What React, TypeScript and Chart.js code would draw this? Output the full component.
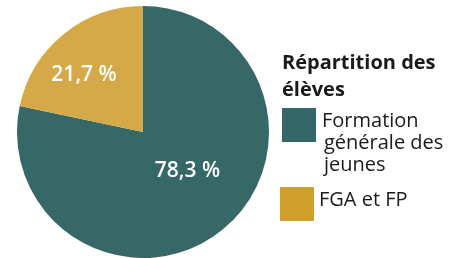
import React, { useEffect, useRef } from "react";
import { Chart, registerables } from "chart.js";

Chart.register(...registerables);

const legendTitle = ["Répartition des", "élèves"];
const categories = ["Formation générale des jeunes", "FGA et FP"];
const legendLines = [["Formation", "générale des", "jeunes"], ["FGA et FP"]];
const values = [78.3, 21.7];
const valueLabels = ["78,3 %", "21,7 %"];
const colors = ["#376868", "#d5a947"];
const legendColors = ["#346767", "#d1a02c"];

const labelPos = [
  { r: 0.47, da: -9.5 },
  { r: 0.65, da: -7 },
];

const FONT = "'Open Sans', 'Noto Sans', sans-serif";

const labelPlugin = {
  id: "sliceLabels",
  afterDatasetsDraw(chart: any) {
    const ctx = chart.ctx;
    const meta = chart.getDatasetMeta(0);
    ctx.save();
    ctx.fillStyle = "#ffffff";
    ctx.font = "600 21px " + FONT;
    ctx.textAlign = "center";
    ctx.textBaseline = "middle";
    meta.data.forEach((arc: any, i: number) => {
      const p = arc.getProps(["x", "y", "startAngle", "endAngle", "outerRadius"], true);
      const mid = (p.startAngle + p.endAngle) / 2 + (labelPos[i].da * Math.PI) / 180;
      const r = p.outerRadius * labelPos[i].r;
      ctx.fillText(valueLabels[i], p.x + Math.cos(mid) * r, p.y + Math.sin(mid) * r);
    });
    ctx.restore();
  },
};

const itemTops = [108, 187];
const textLefts = [322, 319];

export default function App() {
  const ref = useRef<HTMLCanvasElement>(null);
  useEffect(() => {
    if (!ref.current) return;
    const chart = new Chart(ref.current, {
      type: "pie",
      data: {
        labels: categories,
        datasets: [
          {
            data: values,
            backgroundColor: colors,
            borderWidth: 0,
          },
        ],
      },
      options: {
        animation: false,
        responsive: false,
        maintainAspectRatio: false,
        layout: { padding: { left: 17, right: 17, top: 6, bottom: 0 } },
        plugins: {
          legend: { display: false },
          tooltip: { enabled: false },
        },
      },
      plugins: [labelPlugin],
    });
    return () => chart.destroy();
  }, []);

  return (
    <div
      style={{
        position: "fixed",
        left: 0,
        top: 0,
        width: 470,
        height: 258,
        background: "#ffffff",
        overflow: "hidden",
        fontFamily: FONT,
        color: "#1a1a1a",
      }}
    >
      <canvas ref={ref} width={286} height={258} style={{ position: "absolute", left: 0, top: 0 }} />
      <div
        style={{
          position: "absolute",
          left: 282,
          top: 48,
          fontWeight: 700,
          fontSize: 20,
          lineHeight: "27px",
          whiteSpace: "nowrap",
        }}
      >
        {legendTitle.map((t, i) => (
          <div key={i}>{t}</div>
        ))}
      </div>
      {legendLines.map((lines, i) => (
        <React.Fragment key={i}>
          <div
            style={{
              position: "absolute",
              left: i === 0 ? 282 : 280,
              top: itemTops[i],
              width: 34,
              height: 34,
              background: legendColors[i],
            }}
          />
          <div
            style={{
              position: "absolute",
              left: textLefts[i],
              top: itemTops[i] + 1,
              fontSize: 20,
              lineHeight: "22px",
              whiteSpace: "nowrap",
            }}
          >
            {lines.map((l, j) => (
              <div key={j} style={{ paddingLeft: j > 0 ? 2 : 0 }}>
                {l}
              </div>
            ))}
          </div>
        </React.Fragment>
      ))}
    </div>
  );
}
